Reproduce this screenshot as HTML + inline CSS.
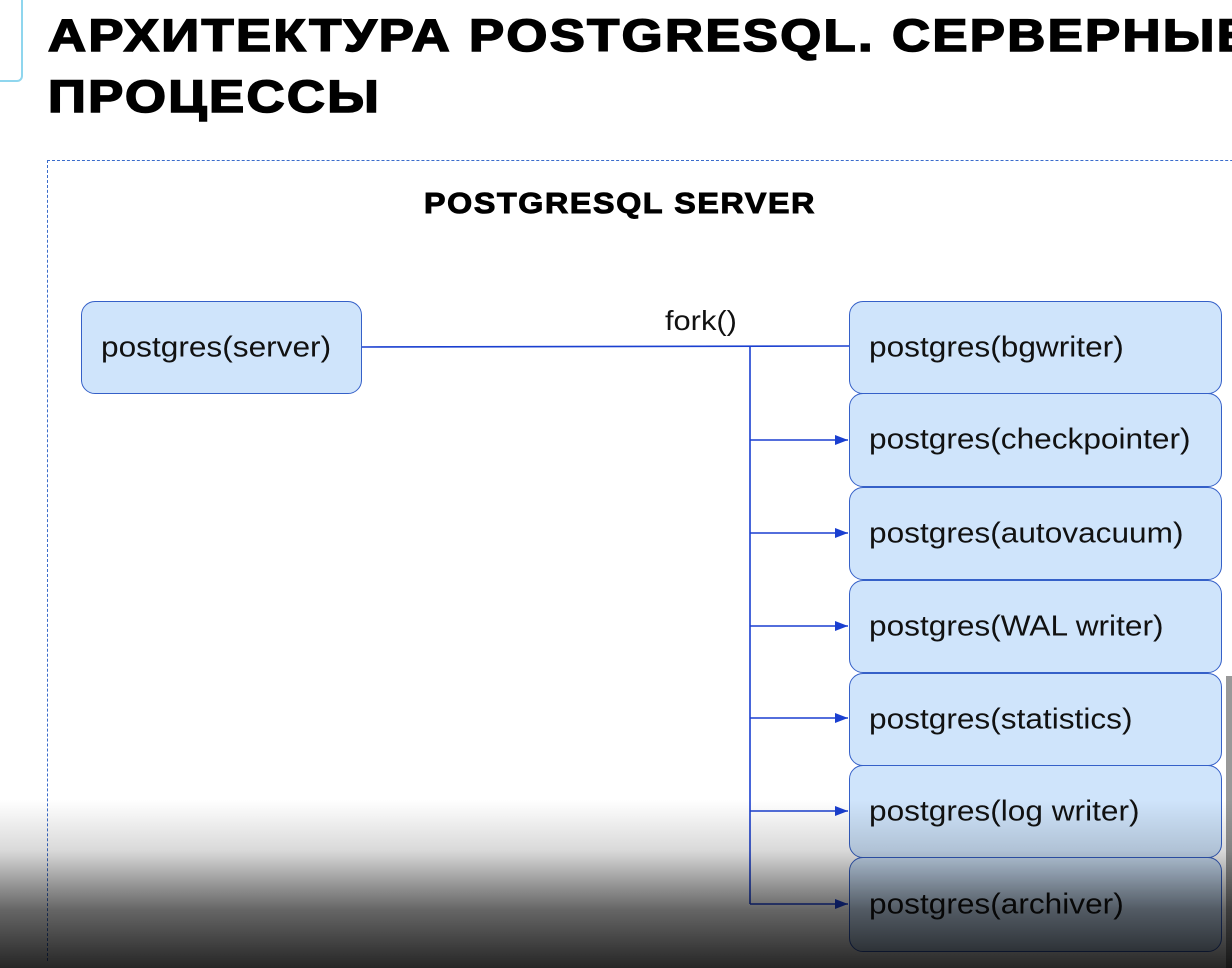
<!DOCTYPE html>
<html><head><meta charset="utf-8"><style>
html,body{margin:0;padding:0;width:1232px;height:968px;overflow:hidden;background:#fff;font-family:"Liberation Sans",Arial,sans-serif;position:relative}
.t{position:absolute;left:48px;font-weight:bold;font-size:45px;letter-spacing:2px;white-space:nowrap;color:#000;-webkit-text-stroke:1.6px #000;line-height:1;transform:scaleX(1.17);transform-origin:0 0}
.box{position:absolute;background:#cfe4fb;border:1.5px solid #3560c8;border-radius:14px;box-sizing:border-box;color:#111;white-space:nowrap}
.box span{position:absolute;left:19px;top:50%;font-size:29px;transform:translateY(-50%) scaleX(1.09);transform-origin:0 50%}
</style></head><body>
<div style="position:absolute;left:-10px;top:-10px;width:29px;height:88px;border:2px solid #8fd6ee;border-radius:6px"></div>
<div class="t" style="top:13px">АРХИТЕКТУРА POSTGRESQL. СЕРВЕРНЫЕ</div>
<div class="t" style="top:74px">ПРОЦЕССЫ</div>
<div style="position:absolute;left:47px;top:160px;width:1300px;height:800px;border-left:1.5px dashed #3a6ccc;border-top:1.5px dashed #3a6ccc"></div>
<div style="position:absolute;left:424px;top:188px;font-weight:bold;font-size:29px;letter-spacing:1.5px;-webkit-text-stroke:1px #000;transform:scaleX(1.11);transform-origin:0 0;white-space:nowrap">POSTGRESQL SERVER</div>
<div class="box" style="left:81px;top:301px;width:281px;height:93px"><span>postgres(server)</span></div>
<div style="position:absolute;left:665px;top:305px;font-size:28px;color:#111;transform:scaleX(1.1);transform-origin:0 0">fork()</div>
<svg style="position:absolute;left:0;top:0" width="1232" height="968">
<defs><marker id="a" markerWidth="13" markerHeight="10" refX="13" refY="5" orient="auto" markerUnits="userSpaceOnUse"><path d="M0,0L13,5L0,10z" fill="#1a3fd0"/></marker></defs>
<g stroke="#1a3fd0" stroke-width="1.6" fill="none">
<line x1="362" y1="347" x2="849" y2="346"/>
<line x1="750" y1="347" x2="750" y2="904"/>
<line x1="750" y1="440" x2="848" y2="440" marker-end="url(#a)"/>
<line x1="750" y1="533" x2="848" y2="533" marker-end="url(#a)"/>
<line x1="750" y1="626" x2="848" y2="626" marker-end="url(#a)"/>
<line x1="750" y1="718" x2="848" y2="718" marker-end="url(#a)"/>
<line x1="750" y1="811" x2="848" y2="811" marker-end="url(#a)"/>
<line x1="750" y1="904" x2="848" y2="904" marker-end="url(#a)"/>
</g></svg>
<div class="box" style="left:849px;top:301px;width:373px;height:93px"><span>postgres(bgwriter)</span></div>
<div class="box" style="left:849px;top:393px;width:373px;height:94px"><span>postgres(checkpointer)</span></div>
<div class="box" style="left:849px;top:487px;width:373px;height:93px"><span>postgres(autovacuum)</span></div>
<div class="box" style="left:849px;top:580px;width:373px;height:93px"><span>postgres(WAL writer)</span></div>
<div class="box" style="left:849px;top:673px;width:373px;height:93px"><span>postgres(statistics)</span></div>
<div class="box" style="left:849px;top:765px;width:373px;height:93px"><span>postgres(log writer)</span></div>
<div class="box" style="left:849px;top:857px;width:373px;height:95px"><span>postgres(archiver)</span></div>
<div style="position:absolute;left:1226px;top:676px;width:6px;height:292px;background:#999"></div>
<div style="position:absolute;left:0;top:800px;width:1232px;height:168px;background:linear-gradient(to bottom,rgba(0,0,0,0) 0%,rgba(0,0,0,0.15) 30%,rgba(0,0,0,0.6) 65%,rgba(0,0,0,0.85) 100%)"></div>
</body></html>
